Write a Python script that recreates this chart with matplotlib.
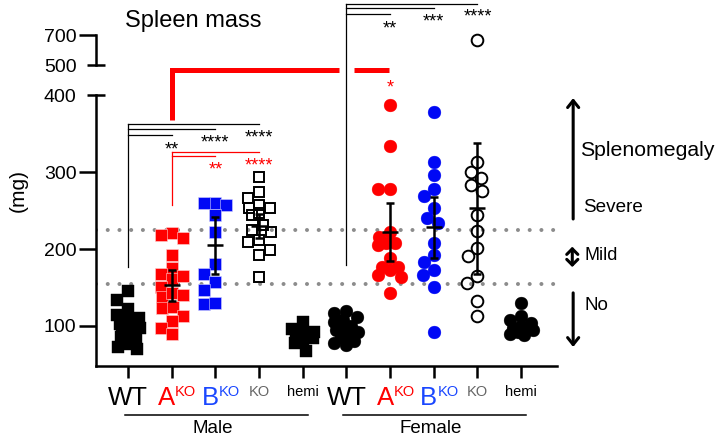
import numpy as np
import matplotlib
matplotlib.use("Agg")
import matplotlib.pyplot as plt
from matplotlib import transforms as mtrans

plt.rcParams['font.family'] = ['Liberation Sans', 'DejaVu Sans']

# ---------------- data (mg) ----------------
male_wt = [145, 134, 122, 114, 110, 106, 103, 101, 99, 97, 95, 92, 89, 86, 82, 77, 73, 70]
male_a = [221, 218, 214, 192, 175, 168, 161, 165, 150, 138, 123, 143, 140, 125, 113, 106, 97, 90]
male_b = [260, 257, 260, 244, 222, 180, 168, 157, 147, 129, 130]
male_ko = [293, 274, 266, 257, 253, 253, 247, 244, 231, 225, 222, 212, 209, 199, 192, 164]
male_hemi = [105, 96, 92, 90, 88, 87, 85, 82, 78, 67]
female_wt = [120, 117, 112, 108, 105, 100, 97, 95, 92, 90, 86, 80, 78, 75]
female_a = [387, 334, 278, 278, 222, 216, 208, 208, 205, 188, 177, 176, 173, 166, 164, 143]
female_b = [378, 313, 296, 278, 269, 253, 240, 234, 208, 192, 183, 173, 166, 151, 92]
female_ko = [667, 313, 300, 292, 283, 275, 244, 223, 201, 191, 165, 156, 132, 113]
female_hemi = [130, 113, 108, 104, 100, 98, 96, 95, 92, 90, 88]

groups = [male_wt, male_a, male_b, male_ko, male_hemi,
          female_wt, female_a, female_b, female_ko, female_hemi]
group_means = [98, 153, 205, 230, 87, 96, 222, 228, 253, 100]
group_ci = [8, 20, 37, 16, 5, 7, 38, 40, 85, 6]

cat_main = ['WT', 'A', 'B', '', '', 'WT', 'A', 'B', '', '']
cat_small = ['', 'KO', 'KO', 'KO', 'hemi', '', 'KO', 'KO', 'KO', 'hemi']
sex_labels = ['Male', 'Female']
yticks = [100, 200, 300, 400, 500, 700]
thresholds = [155, 225]

RED = '#ff0000'
BLUE = '#0008f5'

# ---------------- broken y scale ----------------
def fwd(v):
    v = np.asarray(v, dtype=float)
    return np.where(v <= 400, v,
                    np.where(v <= 500, 400 + (v - 400) * 0.39,
                             439 + (v - 500) * 0.195))

def inv(u):
    u = np.asarray(u, dtype=float)
    return np.where(u <= 400, u,
                    np.where(u <= 439, 400 + (u - 400) / 0.39,
                             500 + (u - 439) / 0.195))

fig = plt.figure(figsize=(7.2, 4.36), dpi=100)
ax = fig.add_axes([96 / 720, 1 - 366 / 436, 461 / 720, 363 / 436])
ax.set_yscale('function', functions=(fwd, inv))
ax.set_xlim(-0.733, 9.82)
ax.set_ylim(48, float(inv(519.6)))

# ---------------- swarm helper ----------------
def swarm(xc, vals, size_px, square, maxoff=12.0):
    vals = np.asarray(vals, dtype=float)
    pts = ax.transData.transform(np.column_stack([np.full(len(vals), xc), vals]))
    order = np.argsort(-vals)
    cands = sorted(np.arange(-maxoff, maxoff + 0.01, 0.5), key=lambda c: (abs(c), c))
    placed = []
    offs = np.zeros(len(vals))
    thr = size_px * 0.92
    for k in order:
        y = pts[k, 1]
        best, bestd = 0.0, -1.0
        for c in cands:
            dmin = 1e9
            for (px, py) in placed:
                dx = abs(c - px)
                dy = abs(y - py)
                d = max(dx, dy) if square else np.hypot(dx, dy)
                dmin = min(dmin, d)
            if dmin >= thr:
                best = c
                break
            if dmin > bestd + 0.5:
                best, bestd = c, dmin
        offs[k] = best
        placed.append((best, y))
    out = ax.transData.inverted().transform(np.column_stack([pts[:, 0] + offs, pts[:, 1]]))
    return out[:, 0]

# threshold dotted lines
for t in thresholds:
    ax.axhline(t, color='#8c8c8c', lw=2.9, linestyle=(0, (0.01, 2.9)),
               dash_capstyle='round', zorder=1)

styles = [
    dict(marker='s', mfc='k', mec='k', ms=8.6, mew=0.3),
    dict(marker='s', mfc=RED, mec='#ffd0d0', ms=8.6, mew=0.4),
    dict(marker='s', mfc=BLUE, mec='#d0d0ff', ms=8.6, mew=0.4),
    dict(marker='s', mfc='none', mec='k', ms=7.6, mew=1.4),
    dict(marker='s', mfc='k', mec='k', ms=8.6, mew=0.3),
    dict(marker='o', mfc='k', mec='k', ms=9.2, mew=0.3),
    dict(marker='o', mfc=RED, mec=RED, ms=9.2, mew=0.3),
    dict(marker='o', mfc=BLUE, mec=BLUE, ms=9.2, mew=0.3),
    dict(marker='o', mfc='none', mec='k', ms=8.4, mew=1.4),
    dict(marker='o', mfc='k', mec='k', ms=9.2, mew=0.3),
]
for i, (vals, st) in enumerate(zip(groups, styles)):
    sq = st['marker'] == 's'
    xs = swarm(i, vals, 11.8 if sq else 12.8, sq)
    ax.plot(xs, vals, ls='none', zorder=3, **st)

# mean +/- CI bars
for i, (m, c) in enumerate(zip(group_means, group_ci)):
    ax.errorbar([i], [m], yerr=[c], fmt='_', ms=12, mew=1.8, color='k',
                elinewidth=1.8, capsize=3.0, capthick=1.8, zorder=4)

# ---------------- axes styling ----------------
for s in ['top', 'right']:
    ax.spines[s].set_visible(False)
ax.spines['left'].set_linewidth(1.8)
ax.spines['bottom'].set_linewidth(1.8)
ax.spines['left'].set_bounds(48, 400)
ax.set_yticks(yticks)
ax.set_yticklabels([str(v) for v in yticks], fontsize=14)
ax.tick_params(axis='y', length=12, width=1.8, pad=2)
ax.set_xticks(range(10))
ax.set_xticklabels([])
ax.tick_params(axis='x', length=8.6, width=1.8)
ax.yaxis.set_minor_locator(matplotlib.ticker.NullLocator())
for tk in ax.yaxis.get_major_ticks():
    if tk.get_loc() in (400, 500):
        tk.tick1line.set_visible(False)
yt = ax.get_yaxis_transform()
ax.plot([0, 0], [500, 700], transform=yt, clip_on=False, color='k', lw=1.8)
for v in (400, 500):
    ax.plot([-0.0195, 0.0195], [v, v], transform=yt, clip_on=False,
            color='k', lw=1.8, solid_capstyle='butt')

# ---------------- significance brackets ----------------
thin = 0.9
def bracket(x0, x1s, ys, ybot, color, lw=thin):
    ax.plot([x0, x0], [ybot, max(ys)], color=color, lw=lw, clip_on=False, zorder=2)
    for x1, y in zip(x1s, ys):
        ax.plot([x0, x1], [y, y], color=color, lw=lw, clip_on=False, zorder=2)

bracket(0, [3, 2, 1], [362, 356, 348], 177, 'k')
bracket(1, [3, 2], [326, 321], 257, RED)
bracket(5, [8, 7, 6], [910, 879, 839], 179, 'k')

star_kw = dict(ha='center', va='baseline', fontsize=13, clip_on=False)
ax.text(3, 339, '****', color='k', **star_kw)
ax.text(2, 332.5, '****', color='k', **star_kw)
ax.text(1, 323.4, '**', color='k', **star_kw)
ax.text(2, 297.4, '**', color=RED, **star_kw)
ax.text(3, 302.6, '****', color=RED, **star_kw)
ax.text(6, 713, '**', color='k', **star_kw)
ax.text(7, 759, '***', color='k', **star_kw)
ax.text(8, 793, '****', color='k', **star_kw)
ax.text(6, 410, '*', color=RED, **star_kw)

# thick red male-vs-female bracket
ax.plot([1, 1, 4.84], [367, 483, 483], color=RED, lw=3.6, clip_on=False,
        solid_joinstyle='miter', solid_capstyle='butt', zorder=2)
ax.plot([5.17, 5.97], [483, 483], color=RED, lw=3.6, clip_on=False,
        solid_capstyle='butt', zorder=2)

# ---------------- category labels ----------------
tr = mtrans.blended_transform_factory(ax.transData, fig.transFigure)
main_colors = ['k', RED, '#1a47ff', 'k', 'k'] * 2
small_colors = ['k', RED, '#1a47ff', '#666666', 'k'] * 2
y_main = 1 - 405 / 436
y_small = 1 - 396 / 436
for i in range(10):
    mtxt, stxt = cat_main[i], cat_small[i]
    if mtxt and stxt:
        ax.text(i + 0.08, y_main, mtxt, transform=tr, ha='right', va='baseline',
                fontsize=18.5, color=main_colors[i])
        ax.text(i + 0.08, y_small, stxt, transform=tr, ha='left', va='baseline',
                fontsize=10.5, color=small_colors[i])
    elif mtxt:
        ax.text(i, y_main, mtxt, transform=tr, ha='center', va='baseline',
                fontsize=18.5, color=main_colors[i])
    else:
        ax.text(i, y_small, stxt, transform=tr, ha='center', va='baseline',
                fontsize=10.5, color=small_colors[i])

for g, lab in enumerate(sex_labels):
    i0 = g * 5
    ax.plot([i0 - 0.07, i0 + 4.12], [1 - 415 / 436] * 2, transform=tr,
            clip_on=False, color='k', lw=1.1)
    ax.text(i0 + 1.93, 1 - 433 / 436, lab, transform=tr, ha='center',
            va='baseline', fontsize=13.5)

# ---------------- titles ----------------
fig.text(125 / 720, 1 - 27 / 436, 'Spleen mass', fontsize=17, ha='left', va='baseline')
fig.text(18 / 720, 1 - 190 / 436, '(mg)', fontsize=15, rotation=90,
         ha='center', va='center')

# ---------------- severity annotations ----------------
ax.annotate('', xy=(10.19, 396), xytext=(10.19, 239),
            arrowprops=dict(arrowstyle='->,head_length=0.5,head_width=0.4',
                            lw=2.2, color='k', mutation_scale=10,
                            shrinkA=0, shrinkB=0),
            annotation_clip=False)
ax.annotate('', xy=(10.17, 203), xytext=(10.17, 176.5),
            arrowprops=dict(arrowstyle='<->,head_length=0.4,head_width=0.4',
                            lw=2.2, color='k', mutation_scale=10,
                            shrinkA=0, shrinkB=0),
            annotation_clip=False)
ax.annotate('', xy=(10.19, 72.7), xytext=(10.19, 143),
            arrowprops=dict(arrowstyle='->,head_length=0.5,head_width=0.4',
                            lw=2.2, color='k', mutation_scale=10,
                            shrinkA=0, shrinkB=0),
            annotation_clip=False)
ax.text(10.35, 328.6, 'Splenomegaly', fontsize=15.3, va='center', ha='left', clip_on=False)
ax.text(10.42, 254.5, 'Severe', fontsize=13.6, va='center', ha='left', clip_on=False)
ax.text(10.44, 191, 'Mild', fontsize=13, va='center', ha='left', clip_on=False)
ax.text(10.44, 127, 'No', fontsize=13.5, va='center', ha='left', clip_on=False)

fig.savefig('out.png', dpi=100)
